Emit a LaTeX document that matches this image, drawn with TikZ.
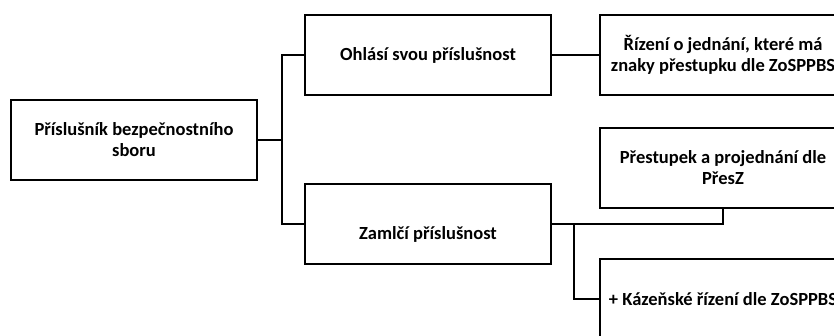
\documentclass[tikz,border=0pt]{standalone}
\usepackage{fontspec}
\setmainfont{Carlito}
\begin{document}
\begin{tikzpicture}[x=1pt,y=-1pt,
 box/.style={draw=black, line width=2.6pt, minimum width=246pt, minimum height=80pt, inner sep=0pt, align=center, font=\bfseries\fontsize{18.5}{21}\selectfont},
 txt/.style={inner sep=0pt, align=center, font=\bfseries\fontsize{18.5}{21}\selectfont},
 conn/.style={draw=black, line width=2.6pt}]
\useasboundingbox (0,0) rectangle (834,336);
\clip (0,0) rectangle (834,336);
\node[box] (a) at (134,140) {Příslušník bezpečnostního\\sboru};
\node[box] (b) at (428,55) {Ohlásí svou příslušnost};
\node[box] (c) at (428,224) {};
\node[txt] (ct) at (428,234) {Zamlčí příslušnost};
\node[box] (d) at (723,55) {Řízení o jednání, které má\\znaky přestupku dle ZoSPPBS};
\node[box] (e) at (723,168) {Přestupek a projednání dle\\PřesZ};
\node[box] (f) at (723,299) {+ Kázeňské řízení dle ZoSPPBS};
\coordinate (j1) at (282,140);
\coordinate (j2) at (574,224);
\draw[conn] (a.east) -- (j1);
\draw[conn] (b.west) -| (j1) |- (c.west);
\draw[conn] (b.east) -- (d.west);
\draw[conn] (c.east) -| (e.south);
\draw[conn] (j2) |- (f.west);
\end{tikzpicture}
\end{document}
